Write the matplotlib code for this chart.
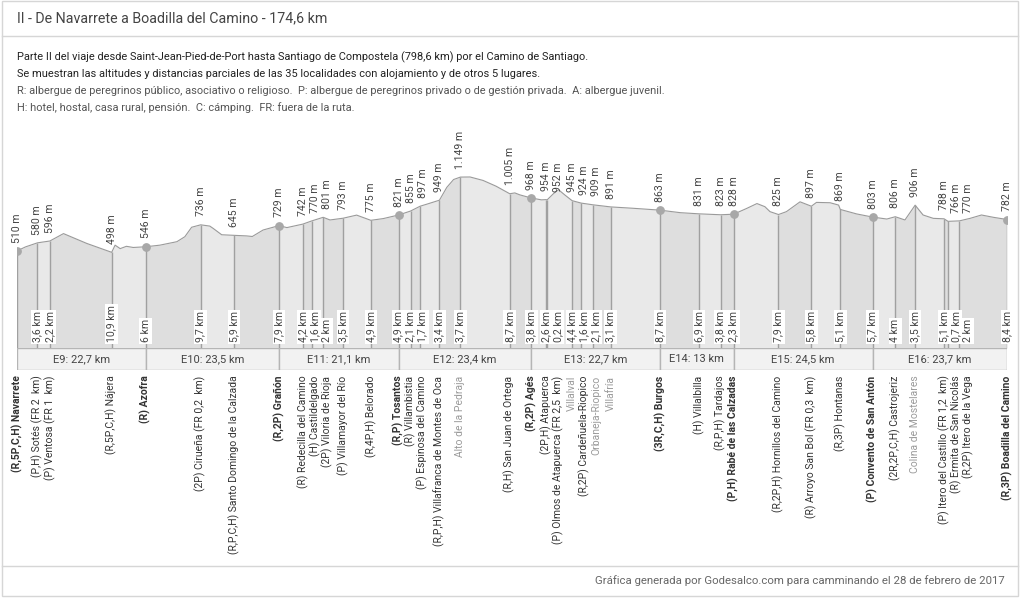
import matplotlib
matplotlib.use("Agg")
import matplotlib.pyplot as plt
from matplotlib.patches import Rectangle

plt.rcParams['font.family'] = ['Roboto', 'DejaVu Sans']

# places along the route: name label, partial distance (km) from previous, altitude (m)
places = [
    "(R,5P,C,H) Navarrete", "(P,H) Sotés (FR 2  km)", "(P) Ventosa (FR 1  km)",
    "(R,5P,C,H) Nájera", "(R) Azofra", "(2P) Cirueña (FR 0,2  km)",
    "(R,P,C,H) Santo Domingo de la Calzada", "(R,2P) Grañón", "(R) Redecilla del Camino",
    "(H) Castildelgado", "(2P) Viloria de Rioja", "(P) Villamayor del Río",
    "(R,4P,H) Belorado", "(R,P) Tosantos", "(R) Villambistia", "(P) Espinosa del Camino",
    "(R,P,H) Villafranca de Montes de Oca", "Alto de la Pedraja", "(R,H) San Juan de Ortega",
    "(R,2P) Agés", "(2P,H) Atapuerca", "(P) Olmos de Atapuerca (FR 2,5  km)", "Villalval",
    "(R,2P) Cardeñuela-Riopico", "Orbaneja-Riopico", "Villafría", "(3R,C,H) Burgos",
    "(H) Villalbilla", "(R,P,H) Tardajos", "(P,H) Rabé de las Calzadas",
    "(R,2P,H) Hornillos del Camino", "(R) Arroyo San Bol (FR 0,3  km)", "(R,3P) Hontanas",
    "(P) Convento de San Antón", "(2R,2P,C,H) Castrojeriz", "Colina de Mostelares",
    "(P) Itero del Castillo (FR 1,2  km)", "(R) Ermita de San Nicolás",
    "(R,2P) Itero de la Vega", "(R,3P) Boadilla del Camino",
]
partial_km = [0, 3.6, 2.2, 10.9, 6, 9.7, 5.9, 7.9, 4.2, 1.6, 2, 3.5, 4.9, 4.9, 2.1, 1.7,
              3.4, 3.7, 8.7, 3.8, 2.6, 0.2, 4.4, 1.6, 2.1, 3.1, 8.7, 6.9, 3.8, 2.3,
              7.9, 5.8, 5.1, 5.7, 4, 3.5, 5.1, 0.7, 2, 8.4]
altitude = [510, 580, 596, 498, 546, 736, 645, 729, 742, 770, 801, 793, 775, 821, 855, 897,
            949, 1149, 1005, 968, 954, 952, 945, 924, 909, 891, 863, 831, 823, 828,
            825, 897, 869, 803, 806, 906, 788, 766, 770, 782]
stage_end = [0, 4, 7, 13, 19, 26, 29, 33, 39]   # indices of stage start/end towns
no_lodging = [17, 22, 24, 25, 35]
stage_names = ["E9", "E10", "E11", "E12", "E13", "E14", "E15", "E16"]
stage_km = ["22,7", "23,5", "21,1", "23,4", "22,7", "13", "24,5", "23,7"]

# elevation profile
prof_km = [0, 1.5, 3.6, 5.8, 8.2, 12.3, 16.7, 17.3, 18.2, 19.3, 20.5, 22.7, 25.2, 28.2,
           29.6, 30.8, 32.4, 34.0, 34.6, 36.1, 38.3, 40.5, 41.5, 43.4, 46.2, 47.6, 50.4,
           52.0, 54.0, 55.2, 57.5, 59.9, 62.4, 64.6, 67.3, 69.4, 71.1, 72.3, 74.5, 75.8,
           77.0, 78.2, 79.9, 82.2, 84.5, 86.9, 87.8, 88.7, 90.7, 92.5, 93.3, 93.5, 94.6,
           95.5, 96.6, 97.9, 99.5, 101.6, 104.7, 108.7, 113.4, 117.0, 120.3, 124.1, 126.4,
           128.7, 130.5, 131.9, 132.8, 134.3, 135.7, 138.1, 140.1, 141.0, 143.4, 144.9,
           145.2, 148.1, 150.9, 153.4, 154.9, 156.6, 158.4, 159.8, 161.6, 163.5, 164.2,
           166.2, 168.1, 170.1, 172.2, 174.6]
prof_m = [510, 545, 580, 596, 660, 575, 498, 560, 530, 550, 540, 546, 560, 590,
          633, 715, 736, 725, 705, 650, 645, 640, 635, 691, 729, 712, 742,
          770, 801, 778, 793, 820, 775, 790, 821, 855, 897, 915, 949, 1060,
          1128, 1149, 1150, 1120, 1070, 1005, 1012, 995, 968, 952, 954, 952, 1005,
          1040, 995, 945, 924, 909, 891, 879, 863, 841, 831, 823, 828,
          878, 920, 893, 850, 825, 850, 935, 897, 930, 927, 907,
          869, 830, 803, 786, 806, 778, 906, 821, 792, 788, 766,
          770, 792, 821, 801, 782]

pos = []
t = 0
for d in partial_km:
    t += d
    pos.append(round(t, 1))
total = pos[-1]

# spread labels so they do not overlap
gap = 2.12
lab_x = []
for p in pos:
    if lab_x and p < lab_x[-1] + gap:
        lab_x.append(lab_x[-1] + gap)
    else:
        lab_x.append(p)

def fmt_km(v):
    s = ("%g" % v).replace(".", ",")
    return s + " km"

def fmt_m(v):
    return f"{v:,}".replace(",", ".") + " m"

W, H = 1024, 598
fig = plt.figure(figsize=(W / 100, H / 100), dpi=100)

def frac(x0, y0, x1, y1):
    return [x0 / W, 1 - y1 / H, (x1 - x0) / W, (y1 - y0) / H]

# frame
bg = fig.add_axes([0, 0, 1, 1])
bg.set_xlim(0, W)
bg.set_ylim(H, 0)
bg.axis("off")
bg.add_patch(Rectangle((2, 1), 1016, 595, fill=False, ec="#d6d6d6", lw=1))
bg.plot([2, 1018], [35.5, 35.5], color="#d6d6d6", lw=1)
bg.plot([2, 1018], [565.5, 565.5], color="#d6d6d6", lw=1)
bg.text(17, 18, "II - De Navarrete a Boadilla del Camino - 174,6 km", fontsize=10.3,
        color="#444444", va="center")
desc = [
    ("Parte II del viaje desde Saint-Jean-Pied-de-Port hasta Santiago de Compostela (798,6 km) por el Camino de Santiago.", "#222222"),
    ("Se muestran las altitudes y distancias parciales de las 35 localidades con alojamiento y de otros 5 lugares.", "#222222"),
    ("R: albergue de peregrinos público, asociativo o religioso.  P: albergue de peregrinos privado o de gestión privada.  A: albergue juvenil.", "#555555"),
    ("H: hotel, hostal, casa rural, pensión.  C: cámping.  FR: fuera de la ruta.", "#555555"),
]
for i, (line, c) in enumerate(desc):
    bg.text(17, 57 + i * 17, line, fontsize=7.9, color=c, va="center")
bg.text(1005, 581, "Gráfica generada por Godesalco.com para camminando el 28 de febrero de 2017",
        fontsize=8.2, color="#666666", va="center", ha="right")

# profile
base, top = -330, 1470
ax = fig.add_axes(frac(17, 140, 1007, 348))
ax.set_xlim(0, total)
ax.set_ylim(base, top)
ax.axis("off")
shades = ["#dedede", "#e9e9e9"]
for i in range(len(pos) - 1):
    xs = [x for x in prof_km if pos[i] <= x <= pos[i + 1]]
    ys = [prof_m[prof_km.index(x)] for x in xs]
    ax.fill_between(xs, base, ys, color=shades[i % 2], lw=0)
ax.plot(prof_km, prof_m, color="#9a9a9a", lw=0.8)
ax.vlines(pos, base, altitude, color="#a0a0a0", lw=1)
ax.scatter([pos[i] for i in stage_end], [altitude[i] for i in stage_end],
           s=28, color="#a8a8a8", zorder=5)
for i, p in enumerate(pos):
    ax.annotate(fmt_m(altitude[i]), xy=(lab_x[i], altitude[i]), xytext=(0, 6),
                textcoords="offset points", rotation=90, ha="center", va="bottom",
                fontsize=7.6, color="#444444")
    if i > 0:
        ax.annotate(fmt_km(partial_km[i]), xy=(lab_x[i], base), xytext=(0, 4),
                    textcoords="offset points", rotation=90, ha="center", va="bottom",
                    fontsize=7.6, color="#444444",
                    bbox=dict(boxstyle="square,pad=0.12", fc="white", ec="none"))

# stage band and place names
axb = fig.add_axes(frac(17, 348, 1007, 370))
axb.set_xlim(0, total)
axb.set_ylim(0, 1)
axb.axis("off")
for k in range(len(stage_names)):
    a, b = pos[stage_end[k]], pos[stage_end[k + 1]]
    axb.add_patch(Rectangle((a, 0), b - a, 1, fc="#f2f2f2", ec="#b5b5b5", lw=1))
    axb.text((a + b) / 2, 0.48, f"{stage_names[k]}: {stage_km[k]} km", ha="center",
             va="center", fontsize=8, color="#444444")
for i, p in enumerate(pos):
    bold = i in stage_end
    color = "#9a9a9a" if i in no_lodging else "#333333"
    axb.annotate(places[i], xy=(lab_x[i], 0), xytext=(0, -4), textcoords="offset points",
                 rotation=90, ha="center", va="top", fontsize=7.5, color=color,
                 fontweight="bold" if bold else "normal", annotation_clip=False)

fig.savefig("out.png", dpi=100)
